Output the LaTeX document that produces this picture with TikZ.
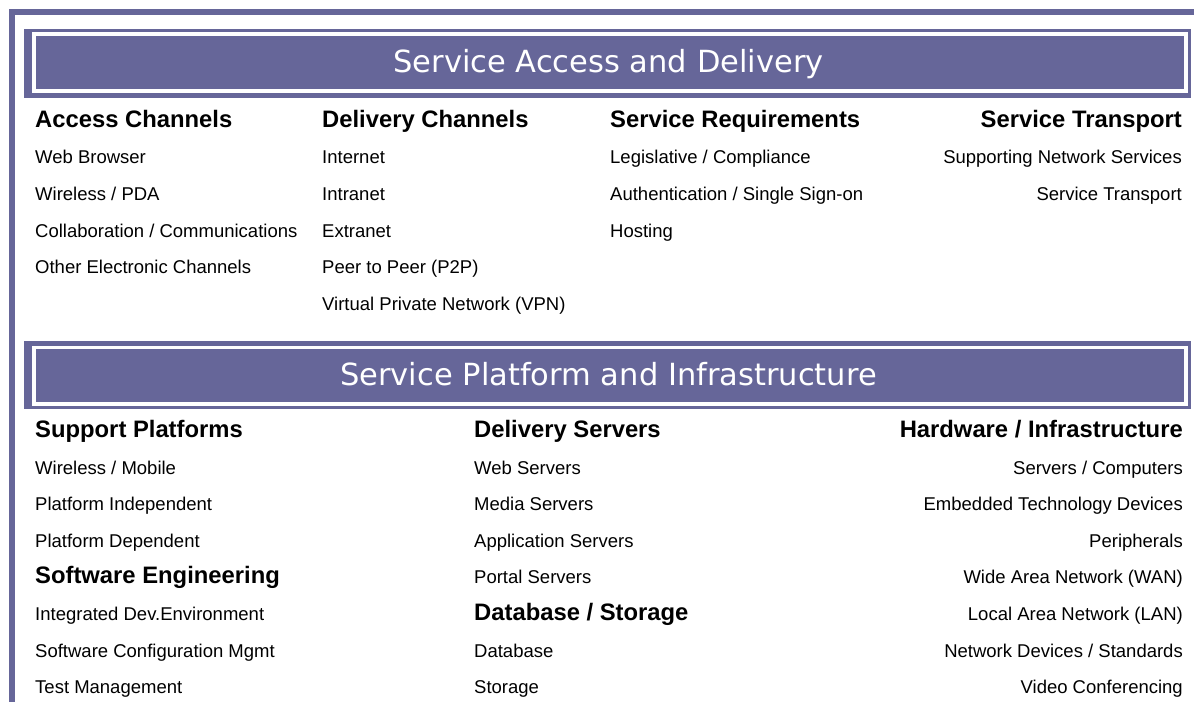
\documentclass[tikz,border=0pt]{standalone}
\usepackage{fontspec}
\setmainfont{Liberation Sans}
\newfontfamily\headfont{DejaVu Sans}
\definecolor{frame}{HTML}{666699}
\tikzset{
  itemL/.style={anchor=base west, inner sep=0pt, font=\fontsize{18.5}{20}\selectfont},
  itemR/.style={anchor=base east, inner sep=0pt, font=\fontsize{18.5}{20}\selectfont},
  headL/.style={anchor=base west, inner sep=0pt, font=\bfseries\fontsize{23.8}{26}\selectfont},
  headR/.style={anchor=base east, inner sep=0pt, font=\bfseries\fontsize{23.8}{26}\selectfont},
  titletext/.style={anchor=base, inner sep=0pt, text=white, font=\headfont\fontsize{30.5}{34}\selectfont},
  whiteline/.style={draw=white, line width=3.8pt},
}
\begin{document}
\begin{tikzpicture}[x=1pt,y=-1pt]
\useasboundingbox (0,0) rectangle (1194,702);
% outer frame
\fill[frame] (9,9) rectangle (1194,15);
\fill[frame] (9,9) rectangle (15,702);
% header 1
\fill[frame] (24,29) rectangle (1190.5,98.3);
\draw[whiteline] (34,34.2) rectangle (1186,90.8);
\node[titletext] (t1) at (608.5,72) {Service Access and Delivery};
% header 2
\fill[frame] (24,341) rectangle (1190.5,409.3);
\draw[whiteline] (34,347.5) rectangle (1186,403.8);
\node[titletext] (t2) at (608.5,385) {Service Platform and Infrastructure};

% Section 1
\node[headL] (h11) at (35,127.5) {Access Channels};
\node[itemL] (a1) at (35,163.5) {Web Browser};
\node[itemL] (a2) at (35,200.2) {Wireless / PDA};
\node[itemL] (a3) at (35,237) {Collaboration / Communications};
\node[itemL] (a4) at (35,273.7) {Other Electronic Channels};

\node[headL] (h12) at (322,127.5) {Delivery Channels};
\node[itemL] (b1) at (322,163.5) {Internet};
\node[itemL] (b2) at (322,200.2) {Intranet};
\node[itemL] (b3) at (322,237) {Extranet};
\node[itemL] (b4) at (322,273.7) {Peer to Peer (P2P)};
\node[itemL] (b5) at (322,310.4) {Virtual Private Network (VPN)};

\node[headL] (h13) at (610,127.5) {Service Requirements};
\node[itemL] (c1) at (610,163.5) {Legislative / Compliance};
\node[itemL] (c2) at (610,200.2) {Authentication / Single Sign-on};
\node[itemL] (c3) at (610,237) {Hosting};

\node[headR] (h14) at (1182,127.5) {Service Transport};
\node[itemR] (d1) at (1182,163.5) {Supporting Network Services};
\node[itemR] (d2) at (1182,200.2) {Service Transport};

% Section 2
\node[headL] (h21) at (35,437.5) {Support Platforms};
\node[itemL] (e1) at (35,474) {Wireless / Mobile};
\node[itemL] (e2) at (35,510.6) {Platform Independent};
\node[itemL] (e3) at (35,547.2) {Platform Dependent};
\node[headL] (h22) at (35,583.8) {Software Engineering};
\node[itemL] (e4) at (35,620.4) {Integrated Dev.Environment};
\node[itemL] (e5) at (35,657) {Software Configuration Mgmt};
\node[itemL] (e6) at (35,693.6) {Test Management};

\node[headL] (h23) at (474,437.5) {Delivery Servers};
\node[itemL] (f1) at (474,474) {Web Servers};
\node[itemL] (f2) at (474,510.6) {Media Servers};
\node[itemL] (f3) at (474,547.2) {Application Servers};
\node[itemL] (f4) at (474,583.8) {Portal Servers};
\node[headL] (h24) at (474,620.4) {Database / Storage};
\node[itemL] (f5) at (474,657) {Database};
\node[itemL] (f6) at (474,693.6) {Storage};

\node[headR] (h25) at (1183,437.5) {Hardware / Infrastructure};
\node[itemR] (g1) at (1183,474) {Servers / Computers};
\node[itemR] (g2) at (1183,510.6) {Embedded Technology Devices};
\node[itemR] (g3) at (1183,547.2) {Peripherals};
\node[itemR] (g4) at (1183,583.8) {Wide Area Network (WAN)};
\node[itemR] (g5) at (1183,620.4) {Local Area Network (LAN)};
\node[itemR] (g6) at (1183,657) {Network Devices / Standards};
\node[itemR] (g7) at (1183,693.6) {Video Conferencing};
\end{tikzpicture}
\end{document}
